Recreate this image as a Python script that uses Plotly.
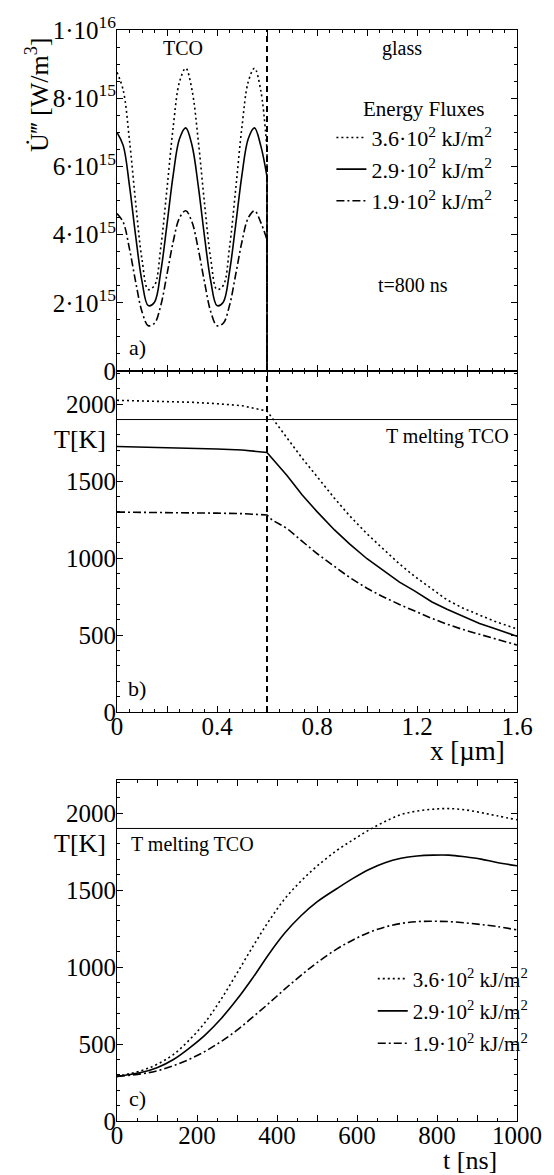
import plotly.graph_objects as go

# ---------------- data ----------------
# panel a: heat source U''' (units of 1e15 W/m^3) inside TCO layer
X_TCO = [0.000, 0.025, 0.050, 0.075, 0.100, 0.125, 0.150, 0.175, 0.200, 0.225, 0.250, 0.275,
         0.300, 0.325, 0.350, 0.375, 0.400, 0.425, 0.450, 0.475, 0.500, 0.525, 0.550, 0.575, 0.600]
U_36 = [8.76, 8.23, 6.76, 4.91, 3.27, 2.39, 2.51, 3.62, 5.35, 7.17, 8.48, 8.88,
        8.24, 6.76, 4.92, 3.29, 2.39, 2.51, 3.62, 5.35, 7.17, 8.48, 8.88, 8.23, 6.50]
U_29 = [7.00, 6.61, 5.43, 3.94, 2.63, 1.92, 2.02, 2.91, 4.30, 5.76, 6.81, 7.13,
        6.62, 5.43, 3.95, 2.64, 1.92, 2.02, 2.91, 4.30, 5.76, 6.81, 7.13, 6.61, 5.70]
U_19 = [4.62, 4.36, 3.58, 2.60, 1.74, 1.33, 1.40, 1.92, 2.84, 3.80, 4.49, 4.70,
        4.37, 3.58, 2.61, 1.74, 1.33, 1.40, 1.92, 2.84, 3.80, 4.49, 4.70, 4.36, 3.85]
X_GLASS = [0.6, 0.6, 1.6]
U_GLASS_END = 0.0

# panel b: temperature profile at t = 800 ns
X_B = [0, 0.1, 0.2, 0.3, 0.4, 0.5, 0.6, 0.62, 0.68, 0.74, 0.8, 0.87, 0.93, 1.0,
       1.06, 1.13, 1.19, 1.26, 1.32, 1.38, 1.45, 1.51, 1.6]
TB_36 = [2025, 2022, 2018, 2012, 2003, 1990, 1955, 1912, 1785, 1650, 1530, 1388, 1276, 1158,
         1067, 962, 882, 800, 729, 678, 631, 590, 540]
TB_29 = [1725, 1722, 1718, 1714, 1709, 1702, 1686, 1648, 1537, 1412, 1302, 1183, 1092, 996,
         927, 844, 787, 715, 668, 625, 576, 543, 492]
TB_19 = [1299, 1298, 1296, 1294, 1292, 1289, 1280, 1248, 1193, 1110, 1030, 946, 875, 804,
         752, 699, 655, 608, 571, 538, 505, 477, 436]

# panel c: temperature vs time
T_NS = [0, 60, 100, 140, 180, 220, 260, 300, 340, 380, 420, 460, 500, 550, 590, 630, 670,
        710, 750, 790, 830, 870, 910, 950, 1000]
TC_36 = [290, 326, 368, 430, 524, 640, 790, 960, 1135, 1300, 1445, 1558, 1655, 1758, 1826,
         1890, 1945, 1990, 2013, 2025, 2029, 2021, 2003, 1982, 1956]
TC_29 = [290, 315, 346, 398, 472, 558, 664, 790, 932, 1085, 1222, 1333, 1423, 1510, 1576,
         1634, 1678, 1706, 1721, 1727, 1727, 1716, 1701, 1679, 1658]
TC_19 = [290, 306, 326, 358, 400, 452, 516, 590, 676, 765, 858, 946, 1028, 1118, 1176,
         1225, 1260, 1283, 1295, 1297, 1295, 1287, 1276, 1263, 1241]

T_MELT = 1900
INTERFACE_X = 0.6
NAMES = ["3.6·10<sup>2</sup> kJ/m<sup>2</sup>",
         "2.9·10<sup>2</sup> kJ/m<sup>2</sup>",
         "1.9·10<sup>2</sup> kJ/m<sup>2</sup>"]
DASHES = ["2px,3px", "solid", "8px,3px,2px,3px"]

# ---------------- figure ----------------
FONT = "Liberation Serif"
LW = 1.6
fig = go.Figure()

# panel a
for name, dash, u in zip(NAMES, DASHES, [U_36, U_29, U_19]):
    fig.add_trace(go.Scatter(x=X_TCO, y=u, mode="lines", name=name, legend="legend",
                             line=dict(color="black", width=LW, dash=dash, shape="spline"),
                             xaxis="x", yaxis="y"))
    fig.add_trace(go.Scatter(x=X_GLASS, y=[u[-1], U_GLASS_END, U_GLASS_END], mode="lines",
                             showlegend=False,
                             line=dict(color="black", width=LW, dash=dash),
                             xaxis="x", yaxis="y"))
# panel b
for name, dash, tb in zip(NAMES, DASHES, [TB_36, TB_29, TB_19]):
    fig.add_trace(go.Scatter(x=X_B, y=tb, mode="lines", name=name, showlegend=False,
                             line=dict(color="black", width=LW, dash=dash),
                             xaxis="x2", yaxis="y2"))
# panel c
for i, (name, dash, tc) in enumerate(zip(NAMES, DASHES, [TC_36, TC_29, TC_19])):
    fig.add_trace(go.Scatter(x=T_NS, y=tc, mode="lines", name=name, legend="legend2",
                             legendgroup=f"g{i}",
                             line=dict(color="black", width=LW, dash=dash, shape="spline"),
                             xaxis="x3", yaxis="y3"))

tickfont = dict(family=FONT, size=25, color="black")
common = dict(showgrid=False, zeroline=False, showline=True, linecolor="black", linewidth=1,
              mirror="ticks", ticks="inside", ticklen=6, tickcolor="black", tickwidth=1,
              tickfont=tickfont)
xcommon = dict(common, ticklabelstandoff=-8)
ycommon = dict(common, ticklabelstandoff=-5)

def minor(d):
    return dict(ticks="inside", dtick=d, ticklen=3, tickcolor="black", tickwidth=1, showgrid=False)

DOM_A = [0.6874, 1.0]
DOM_B = [0.3748, 0.6874]
DOM_C = [0.0, 0.3126]

fig.update_layout(
    width=554, height=1175,
    margin=dict(l=117, r=21, t=27, b=54),
    paper_bgcolor="white", plot_bgcolor="white",
    font=dict(family=FONT, color="black"),
    xaxis=dict(xcommon, domain=[0, 1], anchor="y", range=[0, 1.6],
               tickvals=[0, 0.2, 0.4, 0.6, 0.8, 1.0, 1.2, 1.4, 1.6], showticklabels=False,
               minor=minor(0.05)),
    yaxis=dict(ycommon, domain=DOM_A, anchor="x", range=[0, 10],
               tickvals=[0, 2, 4, 6, 8, 10],
               ticktext=["0", "2·10<sup>15</sup>", "4·10<sup>15</sup>", "6·10<sup>15</sup>",
                         "8·10<sup>15</sup>", "1·10<sup>16</sup>"],
               minor=minor(0.5)),
    xaxis2=dict(xcommon, domain=[0, 1], anchor="y2", range=[0, 1.6],
                tickvals=[0, 0.2, 0.4, 0.6, 0.8, 1.0, 1.2, 1.4, 1.6],
                ticktext=["0", "", "0.4", "", "0.8", "", "1.2", "", "1.6"],
                minor=minor(0.05)),
    yaxis2=dict(ycommon, domain=DOM_B, anchor="x2", range=[0, 2215],
                tickvals=[0, 500, 1000, 1500, 2000], minor=minor(100)),
    xaxis3=dict(xcommon, domain=[0, 1], anchor="y3", range=[0, 1000],
                tickvals=list(range(0, 1001, 100)),
                ticktext=["0", "", "200", "", "400", "", "600", "", "800", "", "1000"],
                minor=minor(50)),
    yaxis3=dict(ycommon, domain=DOM_C, anchor="x3", range=[0, 2215],
                tickvals=[0, 500, 1000, 1500, 2000], minor=minor(100)),
    legend=dict(x=0.536, y=0.9205, xanchor="left", yanchor="top", bgcolor="rgba(0,0,0,0)",
                font=dict(family=FONT, size=22, color="black"), itemwidth=30,
                tracegroupgap=0),
    legend2=dict(x=0.6394, y=0.1490, xanchor="left", yanchor="top", bgcolor="rgba(0,0,0,0)",
                 font=dict(family=FONT, size=21, color="black"), itemwidth=30,
                 traceorder="grouped", tracegroupgap=2),
)

# interface and melting lines
fig.add_shape(type="line", xref="x", yref="paper", x0=INTERFACE_X, x1=INTERFACE_X,
              y0=DOM_B[0], y1=DOM_A[1], line=dict(color="black", width=2, dash="6px,4px"))
for xr, yr in [("x2 domain", "y2"), ("x3 domain", "y3")]:
    fig.add_shape(type="line", xref=xr, yref=yr, x0=0, x1=1, y0=T_MELT, y1=T_MELT,
                  line=dict(color="black", width=1))

def ann(text, x, y, size=20, xanchor="center", angle=0):
    fig.add_annotation(text=text, x=x, y=y, xref="paper", yref="paper", showarrow=False,
                       xanchor=xanchor, yanchor="middle", textangle=angle,
                       font=dict(family=FONT, size=size, color="black"))

ann("U\u0307\u2034 [W/m<sup>3</sup>]", -0.197, 0.9406, size=26, angle=-90)
ann("T[K]", -0.0216, 0.625, size=26, xanchor="right")
ann("T[K]", -0.0216, 0.254, size=26, xanchor="right")
ann("x [µm]", 0.877, 0.339, size=27)
ann("t [ns]", 0.882, -0.0365, size=26)
ann("TCO", 0.166, 0.9835, size=20)
ann("glass", 0.7115, 0.9835, size=20)
ann("Energy Fluxes", 0.767, 0.9280, size=21)
ann("t=800 ns", 0.740, 0.766, size=20)
ann("a)", 0.0505, 0.7093, size=22)
ann("b)", 0.0505, 0.3967, size=22)
ann("c)", 0.0505, 0.021, size=22)
ann("T melting TCO", 0.9856, 0.627, size=20, xanchor="right")
ann("T melting TCO", 0.031, 0.253, size=20, xanchor="left")

fig.write_html("out.html")
